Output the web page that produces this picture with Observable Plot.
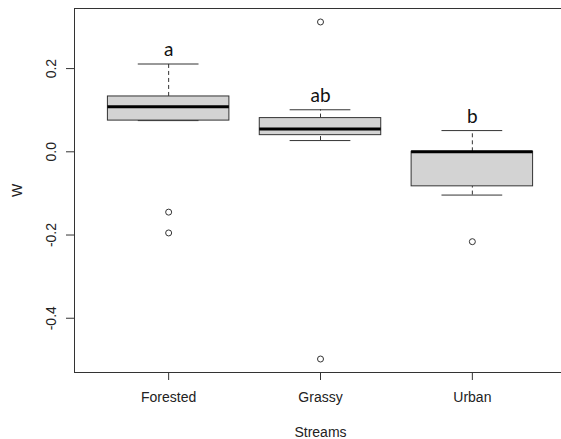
<!DOCTYPE html>
<html>
<head>
<meta charset="utf-8">
<script src="https://cdn.jsdelivr.net/npm/d3@7"></script>
<script src="https://cdn.jsdelivr.net/npm/@observablehq/plot@0.6"></script>
<style>
  html, body { margin: 0; padding: 0; background: #ffffff; }
</style>
</head>
<body>
<div id="chart"></div>
<script>
// ---- data ----
const categories = ["Forested", "Grassy", "Urban"];
const whiskerLow = [0.075, 0.027, -0.104];
const q1 = [0.075, 0.040, -0.083];
const medians = [0.108, 0.055, 0.000];
const q3 = [0.133, 0.081, 0.000];
const whiskerHigh = [0.211, 0.101, 0.051];
const outliers = [[-0.145, -0.195], [0.312, -0.498], [-0.216]];
const letters = ["a", "ab", "b"];
const yTicks = [-0.4, -0.2, 0.0, 0.2];
const xTitle = "Streams";
const yTitle = "W";

// ---- derived tables ----
const boxes = categories.map((c, i) => ({
  c, x: i + 1, lo: whiskerLow[i], q1: q1[i], med: medians[i], q3: q3[i], hi: whiskerHigh[i], letter: letters[i]
}));
const outs = categories.flatMap((c, i) => outliers[i].map(v => ({x: i + 1, v})));

// R-style axis limits (4% extension)
const allVals = [...whiskerLow, ...whiskerHigh, ...outliers.flat()];
const yMin = d3.min(allVals), yMax = d3.max(allVals);
const yExt = (yMax - yMin) * 0.04;
const yDomain = [yMin - yExt, yMax + yExt];
const xExt = categories.length * 0.04;
const xDomain = [0.5 - xExt, categories.length + 0.5 + xExt];

const ink = "#333333";

const chart = Plot.plot({
  width: 561,
  height: 439,
  marginLeft: 74,
  marginRight: -5,
  marginTop: 8,
  marginBottom: 67,
  style: {fontFamily: "'Liberation Sans', Arial, sans-serif", fontSize: "14px", color: "#222", background: "#ffffff"},
  x: {domain: xDomain},
  y: {domain: yDomain},
  marks: [
    // plot border (left, top, bottom)
    Plot.ruleX([xDomain[0]], {stroke: ink}),
    Plot.ruleY([yDomain[0], yDomain[1]], {stroke: ink}),
    // whiskers
    Plot.ruleX(boxes, {x: "x", y1: "q3", y2: "hi", stroke: ink, strokeDasharray: "4,3"}),
    Plot.ruleX(boxes, {x: "x", y1: "lo", y2: "q1", stroke: ink, strokeDasharray: "4,3"}),
    Plot.ruleY(boxes, {y: "hi", x1: d => d.x - 0.2, x2: d => d.x + 0.2, stroke: ink}),
    Plot.ruleY(boxes, {y: "lo", x1: d => d.x - 0.2, x2: d => d.x + 0.2, stroke: ink}),
    // boxes
    Plot.rect(boxes, {x1: d => d.x - 0.4, x2: d => d.x + 0.4, y1: "q1", y2: "q3", fill: "#d3d3d3", stroke: ink}),
    // medians
    Plot.ruleY(boxes, {y: "med", x1: d => d.x - 0.4, x2: d => d.x + 0.4, stroke: "#000", strokeWidth: 3}),
    // outliers
    Plot.dot(outs, {x: "x", y: "v", r: 3, stroke: ink, fill: "none", strokeWidth: 1}),
    // significance letters
    Plot.text(boxes, {x: "x", y: "hi", text: "letter", dy: -8, lineAnchor: "bottom",
      fontFamily: "Lato, 'Open Sans', sans-serif", fontSize: 19, fill: "#111"}),
    // axes
    Plot.axisX({ticks: categories.map((c, i) => i + 1), tickFormat: i => categories[i - 1],
      tickSize: 8, tickPadding: 12, stroke: ink,
      label: xTitle, labelAnchor: "center", labelArrow: "none", labelOffset: 64}),
    Plot.axisY({ticks: yTicks, tickFormat: d => d.toFixed(1),
      tickSize: 8, tickRotate: -90, tickPadding: 11, stroke: ink,
      label: yTitle, labelAnchor: "center", labelArrow: "none", labelOffset: 62})
  ]
});
document.getElementById("chart").appendChild(chart);
</script>
</body>
</html>
